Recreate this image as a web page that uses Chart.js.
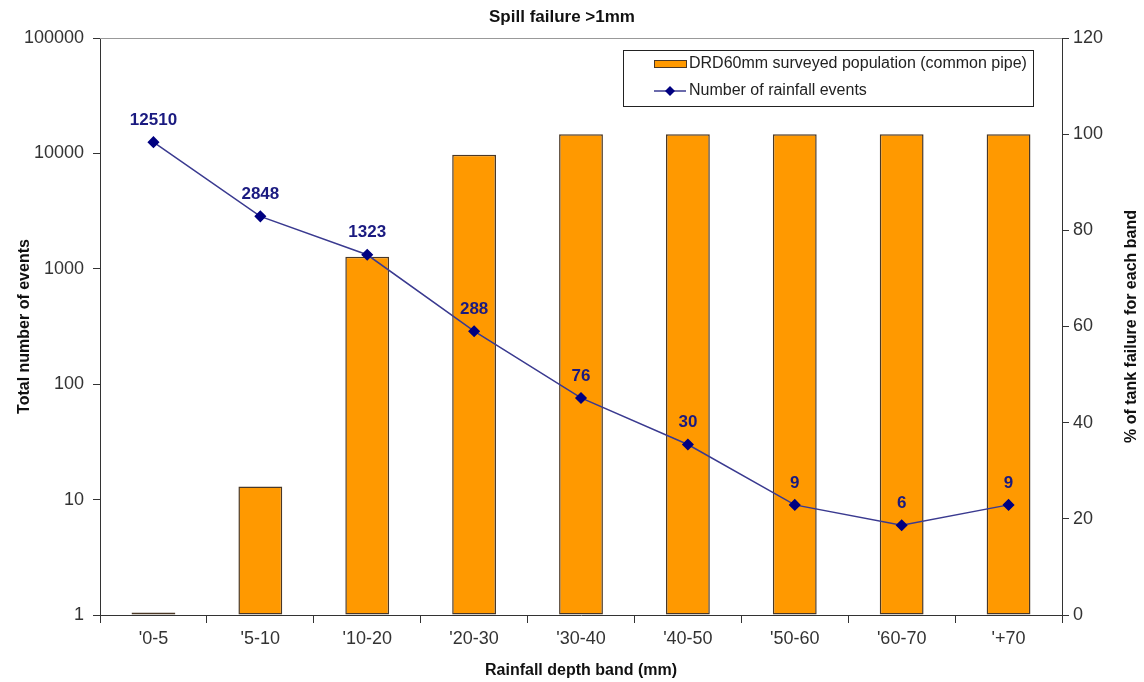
<!DOCTYPE html>
<html>
<head>
<meta charset="utf-8">
<script src="https://cdn.jsdelivr.net/npm/chart.js@4/dist/chart.umd.min.js"></script>
<style>
  html, body { margin: 0; padding: 0; background: #fff; }
  #wrap { width: 1144px; height: 682px; }
</style>
</head>
<body>
<div id="wrap"><canvas id="myChart" width="1144" height="682"></canvas></div>
<script>
const bands = ["'0-5", "'5-10", "'10-20", "'20-30", "'30-40", "'40-50", "'50-60", "'60-70", "'+70"];
const failurePct = [0.5, 26.7, 74.5, 95.7, 100, 100, 100, 100, 100];
const rainfallEvents = [12510, 2848, 1323, 288, 76, 30, 9, 6, 9];
const logTicks = [1, 10, 100, 1000, 10000, 100000];

const FONT = "'Liberation Sans', Arial, sans-serif";
Chart.defaults.font.family = FONT;

// point value labels above the line
const pointLabels = {
  id: 'pointLabels',
  afterDatasetsDraw(chart) {
    const ctx = chart.ctx;
    const meta = chart.getDatasetMeta(1);
    ctx.save();
    ctx.font = "bold 17px " + FONT;
    ctx.fillStyle = '#1a1a80';
    ctx.textAlign = 'center';
    ctx.textBaseline = 'middle';
    meta.data.forEach((pt, i) => {
      ctx.fillText(String(rainfallEvents[i]), pt.x, pt.y - 22);
    });
    ctx.restore();
  }
};

// title, top frame line, right axis title and boxed legend
const decorations = {
  id: 'decorations',
  afterDraw(chart) {
    const ctx = chart.ctx;
    const a = chart.chartArea;
    ctx.save();
    ctx.strokeStyle = '#999';
    ctx.lineWidth = 1;
    ctx.beginPath();
    ctx.moveTo(a.left, a.top + 0.5);
    ctx.lineTo(a.right, a.top + 0.5);
    ctx.stroke();

    ctx.fillStyle = '#111';
    ctx.font = "bold 17px " + FONT;
    ctx.textAlign = 'center';
    ctx.textBaseline = 'middle';
    ctx.fillText('Spill failure >1mm', 562, 17);

    // right axis title, reading bottom to top
    ctx.save();
    ctx.translate(1132, (a.top + a.bottom) / 2);
    ctx.rotate(-Math.PI / 2);
    ctx.font = "bold 16px " + FONT;
    ctx.fillText('% of tank failure for each band', 0, 0);
    ctx.restore();

    // legend
    const bx = 623, by = 50, bw = 410, bh = 56;
    ctx.fillStyle = '#fff';
    ctx.fillRect(bx, by, bw, bh);
    ctx.strokeStyle = '#222';
    ctx.strokeRect(bx + 0.5, by + 0.5, bw, bh);
    const ds = chart.data.datasets;
    ctx.font = "16px " + FONT;
    ctx.textAlign = 'left';
    ctx.fillStyle = ds[0].backgroundColor;
    ctx.fillRect(654, 60, 32, 7);
    ctx.strokeStyle = ds[0].borderColor;
    ctx.strokeRect(654.5, 60.5, 32, 7);
    ctx.fillStyle = '#222';
    ctx.fillText(ds[0].label, 689, 64);

    ctx.strokeStyle = ds[1].borderColor;
    ctx.lineWidth = 1.5;
    ctx.beginPath();
    ctx.moveTo(654, 91);
    ctx.lineTo(686, 91);
    ctx.stroke();
    ctx.fillStyle = ds[1].pointBackgroundColor;
    ctx.beginPath();
    ctx.moveTo(670, 86); ctx.lineTo(675, 91); ctx.lineTo(670, 96); ctx.lineTo(665, 91);
    ctx.closePath();
    ctx.fill();
    ctx.fillStyle = '#222';
    ctx.fillText(ds[1].label, 689, 91);
    ctx.restore();
  }
};

const data = {
  labels: bands,
  datasets: [
    {
      type: 'bar',
      label: 'DRD60mm surveyed population (common pipe)',
      data: failurePct,
      yAxisID: 'y1',
      backgroundColor: '#ff9900',
      borderColor: '#4a3826',
      borderWidth: 1.5,
      borderSkipped: false,
      categoryPercentage: 1,
      barPercentage: 0.41,
      order: 2
    },
    {
      type: 'line',
      label: 'Number of rainfall events',
      data: rainfallEvents,
      yAxisID: 'y',
      borderColor: '#3a3a90',
      borderWidth: 1.5,
      pointStyle: 'rectRot',
      pointRadius: 5,
      pointBackgroundColor: '#000080',
      pointBorderColor: '#000080',
      tension: 0,
      order: 1
    }
  ]
};

const config = {
  data: data,
  options: {
    responsive: false,
    animation: false,
    layout: { padding: { top: 38, left: 0, right: 0, bottom: 0 } },
    plugins: {
      legend: { display: false },
      title: { display: false },
      tooltip: { enabled: false }
    },
    scales: {
      x: {
        type: 'category',
        grid: { offset: true, drawOnChartArea: false, tickLength: 8, color: '#333' },
        border: { color: '#333' },
        ticks: { font: { size: 18 }, color: '#333', padding: 5, maxRotation: 0 },
        title: { display: true, text: 'Rainfall depth band (mm)', color: '#111',
                 font: { size: 16, weight: 'bold' }, padding: { top: 2, bottom: 2 } },
        afterFit(scale) { scale.height = 67; }
      },
      y: {
        type: 'logarithmic',
        position: 'left',
        min: 1,
        max: 100000,
        afterBuildTicks(scale) { scale.ticks = logTicks.map(v => ({ value: v })); },
        grid: { drawOnChartArea: false, tickLength: 7, color: '#333' },
        border: { color: '#333' },
        ticks: { font: { size: 18 }, color: '#333', padding: 9,
                 callback: v => String(v) },
        title: { display: true, text: 'Total number of events', color: '#111',
                 font: { size: 16, weight: 'bold' }, padding: { top: 15, bottom: 0 } },
        afterFit(scale) { scale.width = 100; }
      },
      y1: {
        type: 'linear',
        position: 'right',
        min: 0,
        max: 120,
        ticks: { stepSize: 20, font: { size: 18 }, color: '#333', padding: 4 },
        grid: { drawOnChartArea: false, tickLength: 7, color: '#333' },
        border: { color: '#333' },
        title: { display: false },
        afterFit(scale) { scale.width = 82; }
      }
    }
  },
  plugins: [pointLabels, decorations]
};

const myChart = new Chart(document.getElementById('myChart'), config);
</script>
</body>
</html>
